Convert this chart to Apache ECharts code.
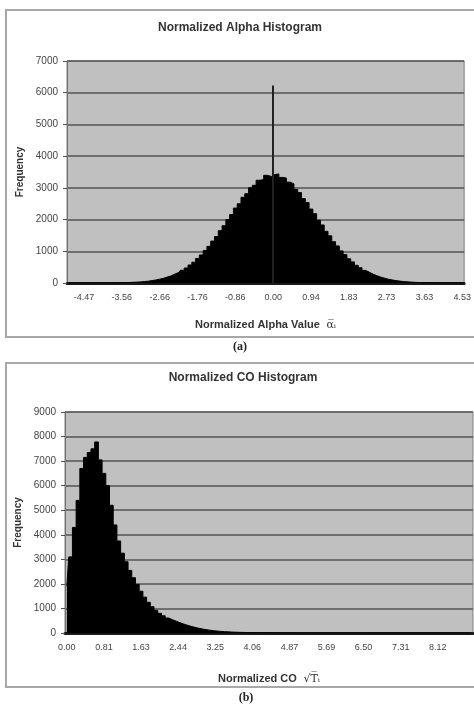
<!DOCTYPE html>
<html><head><meta charset="utf-8">
<script src="https://cdn.jsdelivr.net/npm/echarts@6/dist/echarts.min.js"></script>
<style>html,body{margin:0;padding:0;background:#fff}#c{width:474px;height:711px}</style>
</head><body><div id="c"></div>
<script>
// ---------- Chart (a): Normalized Alpha Histogram ----------
const alphaTitle = 'Normalized Alpha Histogram';
const alphaTickLabels = ['-4.47','-3.56','-2.66','-1.76','-0.86','0.00','0.94','1.83','2.73','3.63','4.53'];
const alphaFreq = [
  0,0,0,1,1,0,1,1,1,2,2,3,4,5,
  9,12,16,22,28,35,47,58,77,95,121,148,187,224,279,331,403,472,568,655,
  774,884,1026,1155,1321,1466,1650,1806,2003,2158,2362,2498,2702,2815,3002,3080,
  3240,3262,3395,3360,3420,
  3440,3330,3310,3180,3125,2950,2850,2660,2535,2330,2185,1978,1829,1630,1486,
  1302,1170,1012,895,762,666,557,481,396,336,273,228,183,151,118,97,75,60,45,
  37,27,21,16,12,9,7,5,4,3,2,2,1,1,1,0
];
const alphaSpikeIndex = 54;
const alphaSpikeValue = 6230;
const alphaFirstLabelIndex = 4;
const alphaLabelStep = 10;

// ---------- Chart (b): Normalized CO Histogram ----------
const coTitle = 'Normalized CO Histogram';
const coTickLabels = ['0.00','0.81','1.63','2.44','3.25','4.06','4.87','5.69','6.50','7.31','8.12'];
const coFreq = [
  1900,3100,4300,5400,6700,7150,7350,7500,7780,7050,
  6500,6000,5200,4400,3750,3250,2900,2550,2250,1980,
  1700,1460,1250,1070,920,800,700,610,540,480,
  420,365,315,270,230,195,165,138,115,96,
  80,66,55,46,38,32,27,23,19,16,
  14,12,10,9,8,7,6,5,5,4,
  4,3,3,3,2,2,2,2,1,1,
  1,1,1,1,0,1,0,1,0,0,
  1,0,0,0,0,1,0,0,0,0,
  0,0,0,0,0,0,0,0,0,0,
  0,0,0,0,0,0,0,0,0,0
];
const coFirstLabelIndex = 0;
const coLabelStep = 10;

const FONT = '"Liberation Sans", Arial, sans-serif';

function xAxisFor(gridIndex, freq, labels, first, step, name, nameGap) {
  return {
    type: 'category', gridIndex: gridIndex,
    data: freq.map((_, i) => i),
    boundaryGap: true,
    axisLine: { show: true, lineStyle: { color: '#1a1a1a', width: 3 } },
    axisTick: { show: false },
    axisLabel: {
      interval: (idx) => idx >= first && (idx - first) % step === 0,
      formatter: (v, idx) => labels[(idx - first) / step] || '',
      fontFamily: FONT, fontSize: 9, color: '#444', margin: 10
    },
    splitLine: { show: false },
    name: name, nameLocation: 'middle', nameGap: nameGap,
    nameTextStyle: {
      rich: {
        n: { fontFamily: FONT, fontSize: 11, fontWeight: 'bold', color: '#333' },
        s: { fontFamily: '"DejaVu Serif", serif', fontSize: 11, color: '#333' }
      }
    }
  };
}
function yAxisFor(gridIndex, max) {
  return {
    type: 'value', gridIndex: gridIndex, min: 0, max: max, interval: 1000,
    axisLine: { show: true, lineStyle: { color: '#707070', width: 1 } },
    axisTick: { show: true, length: 4, lineStyle: { color: '#555' } },
    axisLabel: { fontFamily: FONT, fontSize: 10, color: '#444', margin: 9, formatter: (v) => String(v) },
    splitLine: { show: true, lineStyle: { color: '#555', width: 1.5 } },
    name: 'Frequency', nameLocation: 'middle', nameRotate: 90, nameGap: 41,
    nameTextStyle: { fontFamily: FONT, fontSize: 10, fontWeight: 'bold', color: '#333' }
  };
}
function histSeries(xi, data) {
  return {
    type: 'line', xAxisIndex: xi, yAxisIndex: xi, data: data,
    step: 'middle', showSymbol: false, symbol: 'none',
    lineStyle: { color: '#000', width: 1 },
    areaStyle: { color: '#000', opacity: 1 }
  };
}

const chart = echarts.init(document.getElementById('c'), null, { renderer: 'canvas' });
const alphaSeries = histSeries(0, alphaFreq);
alphaSeries.markLine = {
  symbol: 'none', silent: true, label: { show: false },
  lineStyle: { color: '#222', width: 2, type: 'solid' },
  data: [[ { coord: [alphaSpikeIndex, 0] }, { coord: [alphaSpikeIndex, alphaSpikeValue] } ]]
};
chart.setOption({
  animation: false,
  backgroundColor: '#fff',
  grid: [
    { left: 67, top: 61, width: 401, height: 222, show: true, backgroundColor: '#c0c0c0', borderColor: '#808080', borderWidth: 1 },
    { left: 65, top: 412, width: 408, height: 221, show: true, backgroundColor: '#c0c0c0', borderColor: '#808080', borderWidth: 1 }
  ],
  xAxis: [
    xAxisFor(0, alphaFreq, alphaTickLabels, alphaFirstLabelIndex, alphaLabelStep, '{n|Normalized Alpha Value}  {s|\u03b1\u0305\u1d62}', 36),
    xAxisFor(1, coFreq, coTickLabels, coFirstLabelIndex, coLabelStep, '{n|Normalized CO}  {s|\u221aT\u0305\u1d62}', 40)
  ],
  yAxis: [ yAxisFor(0, 7000), yAxisFor(1, 9000) ],
  series: [ alphaSeries, histSeries(1, coFreq) ],
  graphic: [
    { type: 'rect', shape: { x: 6, y: 10, width: 474, height: 327 }, style: { fill: 'none', stroke: '#a8a8a8', lineWidth: 2 }, silent: true },
    { type: 'rect', shape: { x: 6, y: 363, width: 474, height: 324 }, style: { fill: 'none', stroke: '#a8a8a8', lineWidth: 2 }, silent: true },
    { type: 'text', x: 240, y: 28, style: { text: alphaTitle, font: 'bold 12px ' + FONT, fill: '#333', textAlign: 'center', textVerticalAlign: 'middle' }, silent: true },
    { type: 'text', x: 243, y: 378, style: { text: coTitle, font: 'bold 12px ' + FONT, fill: '#333', textAlign: 'center', textVerticalAlign: 'middle' }, silent: true },
    { type: 'text', x: 240, y: 347, style: { text: '(a)', font: 'bold 12px "Liberation Serif", serif', fill: '#222', textAlign: 'center', textVerticalAlign: 'middle' }, silent: true },
    { type: 'text', x: 246, y: 698, style: { text: '(b)', font: 'bold 12px "Liberation Serif", serif', fill: '#222', textAlign: 'center', textVerticalAlign: 'middle' }, silent: true }
  ]
});
</script>
</body></html>
